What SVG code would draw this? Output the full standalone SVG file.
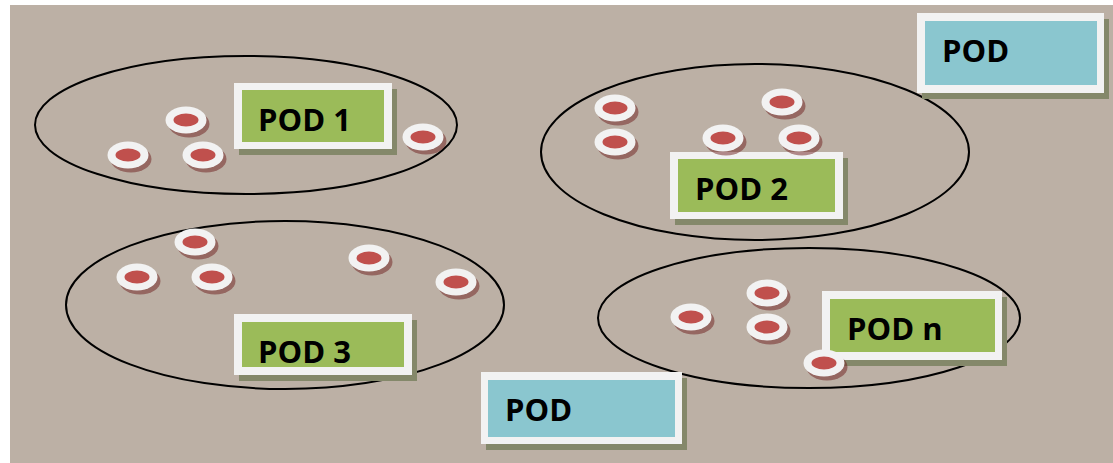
<svg xmlns="http://www.w3.org/2000/svg" width="1113" height="463" viewBox="0 0 1113 463">
<style>
.bg{fill:#BCB0A5}
.ring{fill:none;stroke:#000;stroke-width:2}
.sh{fill:#84886A}
.frame{fill:#F2F2F2}
.green{fill:#9BBB59}
.blue{fill:#8AC6CF}
.lbl{font-family:"Open Sans","Liberation Sans",sans-serif;font-weight:bold;font-size:31px;fill:#000}
.dsh{fill:#6E1E1E;fill-opacity:0.5}
.dout{fill:#F2F2F2}
.din{fill:#C0504D}
</style>
<defs>
<g id="disc">
<ellipse class="dsh" cx="3" cy="4" rx="20.5" ry="13.5"/>
<ellipse class="dout" cx="0" cy="0" rx="20.5" ry="13.5"/>
<ellipse class="din" cx="0" cy="0" rx="12.5" ry="6.5"/>
</g>
</defs>
<rect class="bg" x="10" y="5" width="1103" height="458"/>
<g id="connectors"/>
<g id="cluster1">
<ellipse class="ring" cx="246" cy="125" rx="211" ry="69"/>
<g id="pod1">
<rect class="sh" x="239" y="89" width="158" height="66"/>
<rect class="frame" x="234" y="83" width="158" height="66"/>
<rect class="green" x="242" y="90" width="142" height="52"/>
<text class="lbl" x="258" y="131">POD 1</text>
</g>
<use href="#disc" x="186" y="120"/>
<use href="#disc" x="128" y="155"/>
<use href="#disc" x="203" y="155"/>
<use href="#disc" x="423" y="137"/>
</g>
<g id="cluster2">
<ellipse class="ring" cx="755" cy="152" rx="214" ry="88"/>
<g id="pod2">
<rect class="sh" x="675" y="158" width="173" height="67"/>
<rect class="frame" x="670" y="152" width="173" height="67"/>
<rect class="green" x="678" y="159" width="157" height="53"/>
<text class="lbl" x="695" y="200">POD 2</text>
</g>
<use href="#disc" x="615" y="108"/>
<use href="#disc" x="615" y="142"/>
<use href="#disc" x="782" y="102"/>
<use href="#disc" x="723" y="138"/>
<use href="#disc" x="799" y="138"/>
</g>
<g id="cluster3">
<ellipse class="ring" cx="285" cy="305" rx="219" ry="84"/>
<g id="pod3">
<rect class="sh" x="239" y="320" width="178" height="61"/>
<rect class="frame" x="234" y="314" width="178" height="61"/>
<rect class="green" x="242" y="322" width="162" height="45"/>
<text class="lbl" x="258" y="363">POD 3</text>
</g>
<use href="#disc" x="195" y="242"/>
<use href="#disc" x="137" y="277"/>
<use href="#disc" x="212" y="277"/>
<use href="#disc" x="369" y="258"/>
<use href="#disc" x="456" y="282"/>
</g>
<g id="clusterN">
<ellipse class="ring" cx="809" cy="318" rx="211" ry="70"/>
<g id="podn">
<rect class="sh" x="827" y="297" width="180" height="69"/>
<rect class="frame" x="822" y="291" width="180" height="69"/>
<rect class="green" x="830" y="299" width="165" height="53"/>
<text class="lbl" x="847" y="340">POD n</text>
</g>
<use href="#disc" x="691" y="317"/>
<use href="#disc" x="767" y="293"/>
<use href="#disc" x="767" y="327"/>
<use href="#disc" x="824" y="363"/>
</g>
<g id="pod-top">
<rect class="sh" x="922" y="19" width="187" height="80"/>
<rect class="frame" x="917" y="13" width="187" height="80"/>
<rect class="blue" x="925" y="21" width="172" height="64"/>
<text class="lbl" x="942" y="62">POD</text>
</g>
<g id="pod-bottom">
<rect class="sh" x="486" y="378" width="201" height="72"/>
<rect class="frame" x="481" y="372" width="201" height="72"/>
<rect class="blue" x="488" y="380" width="187" height="57"/>
<text class="lbl" x="505" y="421">POD</text>
</g>
</svg>
